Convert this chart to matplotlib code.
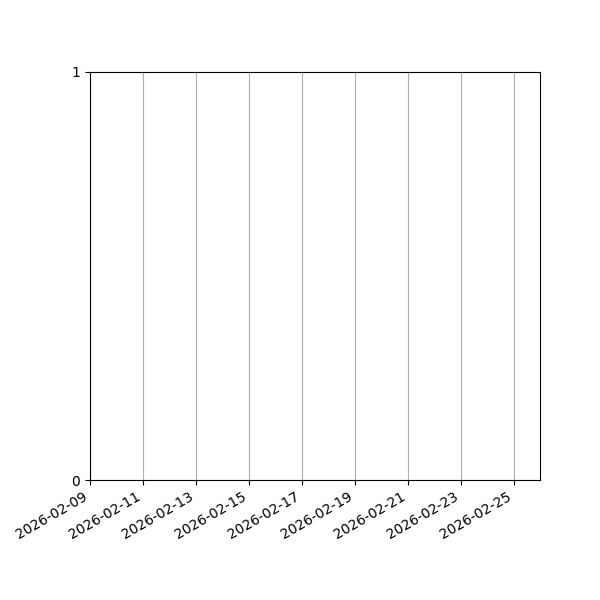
import matplotlib
matplotlib.use("Agg")
import matplotlib.pyplot as plt
import matplotlib.dates as mdates
from datetime import datetime

# date range shown on the x axis (no marks drawn in the reference)
date_start = datetime(2026, 2, 9)
date_end = datetime(2026, 2, 26)
tick_days = [9, 11, 13, 15, 17, 19, 21, 23, 25]
y_ticks = [0, 1]

fig = plt.figure(figsize=(6, 6), dpi=100)
ax = fig.add_axes([0.15, 0.2, 0.75, 0.68])

ax.set_xlim(date_start, date_end)
ax.set_ylim(0, 1)
ax.set_yticks(y_ticks)

ax.xaxis.set_major_locator(mdates.DayLocator(bymonthday=tick_days))
ax.xaxis.set_major_formatter(mdates.DateFormatter("%Y-%m-%d"))
ax.grid(True, axis="x")

for lbl in ax.get_xticklabels():
    lbl.set_rotation(30)
    lbl.set_horizontalalignment("right")

fig.savefig("out.png", dpi=100)
